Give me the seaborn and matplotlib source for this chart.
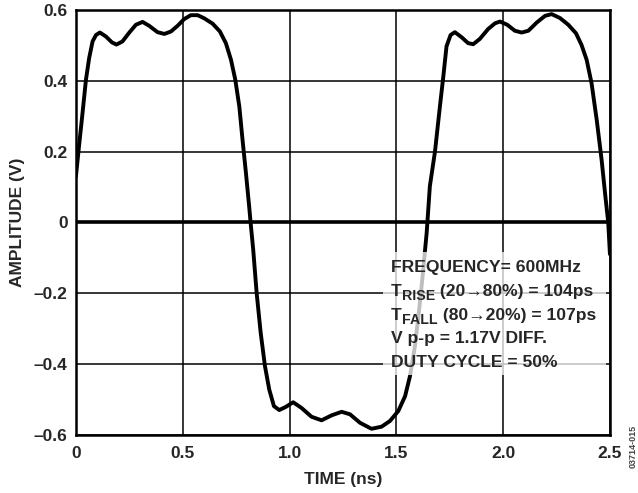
import numpy as np
import pandas as pd
import seaborn as sns
import matplotlib.pyplot as plt
from matplotlib.patches import Rectangle

# digitised waveform (time in ns, amplitude in V)
time_ns = [
    0.000, 0.016, 0.031, 0.047, 0.062, 0.078, 0.094, 0.112, 0.140, 0.169,
    0.190, 0.218, 0.250, 0.281, 0.312, 0.343, 0.382, 0.414, 0.445, 0.476,
    0.507, 0.538, 0.570, 0.601, 0.640, 0.674, 0.702, 0.726, 0.746, 0.765,
    0.780, 0.796, 0.811, 0.818, 0.830, 0.846, 0.865, 0.885, 0.905, 0.927,
    0.952, 0.983, 1.017, 1.056, 1.103, 1.150, 1.197, 1.244, 1.283, 1.330,
    1.384, 1.431, 1.470, 1.509, 1.541, 1.564, 1.587, 1.607, 1.623, 1.642,
    1.657, 1.681, 1.704, 1.720, 1.735, 1.754, 1.774, 1.805, 1.836, 1.860,
    1.891, 1.930, 1.962, 1.985, 2.019, 2.055, 2.087, 2.118, 2.157, 2.196,
    2.227, 2.266, 2.305, 2.341, 2.367, 2.391, 2.414, 2.438, 2.461, 2.477,
    2.492, 2.500,
]
amplitude_v = [
    0.130, 0.224, 0.309, 0.403, 0.464, 0.511, 0.529, 0.536, 0.525, 0.508,
    0.502, 0.511, 0.536, 0.558, 0.566, 0.555, 0.537, 0.532, 0.539, 0.555,
    0.574, 0.585, 0.585, 0.576, 0.561, 0.539, 0.506, 0.459, 0.403, 0.327,
    0.233, 0.139, 0.045, -0.002, -0.077, -0.199, -0.312, -0.406, -0.472, -0.519,
    -0.530, -0.521, -0.508, -0.524, -0.549, -0.559, -0.545, -0.535, -0.542, -0.566,
    -0.583, -0.577, -0.561, -0.533, -0.491, -0.434, -0.350, -0.246, -0.152, -0.030,
    0.102, 0.200, 0.327, 0.412, 0.497, 0.529, 0.537, 0.523, 0.506, 0.503,
    0.518, 0.546, 0.562, 0.567, 0.558, 0.541, 0.536, 0.541, 0.564, 0.583,
    0.588, 0.577, 0.558, 0.534, 0.501, 0.459, 0.393, 0.290, 0.177, 0.083,
    0.000, -0.090,
]

x_ticks = [0, 0.5, 1.0, 1.5, 2.0, 2.5]
x_labels = ["0", "0.5", "1.0", "1.5", "2.0", "2.5"]
y_ticks = [-0.6, -0.4, -0.2, 0, 0.2, 0.4, 0.6]
y_labels = ["–0.6", "–0.4", "–0.2", "0", "0.2", "0.4", "0.6"]

# note lines: (main text, subscript, rest)
info_lines = [
    ("FREQUENCY= 600MHz", "", ""),
    ("T", "RISE", " (20→80%) = 104ps"),
    ("T", "FALL", " (80→20%) = 107ps"),
    ("V p-p = 1.17V DIFF.", "", ""),
    ("DUTY CYCLE = 50%", "", ""),
]

df = pd.DataFrame({"time": time_ns, "amp": amplitude_v})

sns.set_style("white")
plt.rcParams["font.family"] = ["Liberation Sans", "DejaVu Sans"]
plt.rcParams["font.weight"] = "bold"

fig = plt.figure(figsize=(6.38, 4.93), dpi=100)
ax = fig.add_axes([0.119, 0.118, 0.837, 0.862])

sns.lineplot(data=df, x="time", y="amp", color="black", linewidth=2.8,
             ax=ax, zorder=3, sort=False)
ax.axhline(0, color="black", linewidth=2.6, zorder=2)

ax.set_xlim(0, 2.5)
ax.set_ylim(-0.6, 0.6)
ax.set_xticks(x_ticks)
ax.set_xticklabels(x_labels)
ax.set_yticks(y_ticks)
ax.set_yticklabels(y_labels)
ax.tick_params(length=0, labelsize=12.5, pad=8)
ax.tick_params(axis="y", pad=6)
ax.grid(True, color="black", linewidth=1.1, zorder=1)
ax.set_axisbelow(True)
for s in ax.spines.values():
    s.set_color("black")
    s.set_linewidth(1.8)
    s.set_zorder(5)

ax.set_xlabel("TIME (ns)", fontsize=12.5, fontweight="bold", labelpad=8)
ax.set_ylabel("AMPLITUDE (V)", fontsize=12.5, fontweight="bold", labelpad=6)

# white, partly see-through panel behind the notes
ax.add_patch(Rectangle((1.437, -0.430), 1.044, 0.345, facecolor="white",
                       edgecolor="none", alpha=0.75, zorder=4))
for i, (main, sub, rest) in enumerate(info_lines):
    t = ax.text(1.475, -0.141 - 0.067 * i, main, fontsize=12.6,
                fontweight="bold", va="baseline", ha="left", zorder=6)
    if sub:
        s = ax.annotate(sub, xy=(1, 0), xycoords=t, xytext=(0.3, -3.2),
                        textcoords="offset points", fontsize=10.2,
                        fontweight="bold", va="bottom", ha="left", zorder=6)
        ax.annotate(rest, xy=(1, 0), xycoords=(s, t), xytext=(0, 0),
                    textcoords="offset points", fontsize=12.6,
                    fontweight="bold", va="bottom", ha="left", zorder=6)

fig.text(0.992, 0.138, "03714-015", rotation=90, fontsize=6.5,
         color="#444444", ha="center", va="top")

fig.savefig("out.png", dpi=100)
plt.close(fig)
